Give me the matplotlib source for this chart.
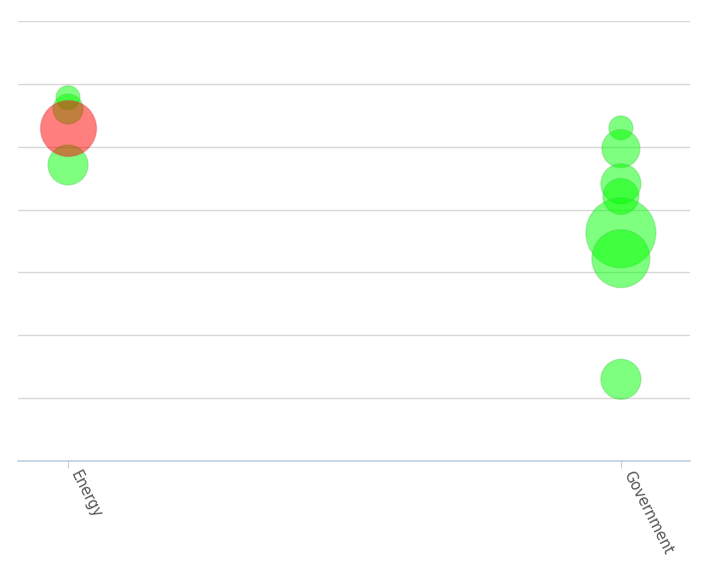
import matplotlib.pyplot as plt

categories = ["Energy", "Government"]

# green bubbles: category index, value, bubble size
green_cat = [0, 0, 0, 1, 1, 1, 1, 1, 1, 1]
green_val = [5.78, 5.60, 4.71, 5.30, 4.97, 4.41, 4.21, 3.63, 3.22, 1.30]
green_size = [12, 15, 20, 12, 19, 20, 18, 35, 29, 20]

# red bubbles
red_cat = [0]
red_val = [5.29]
red_size = [28]

fig = plt.figure(figsize=(7.14, 5.68), dpi=100)
ax = fig.add_axes([0.0252, 0.1884, 0.9412, 0.7746])

# bubble size -> marker area in points^2 (radius in px at 100 dpi)
def area(sizes):
    return [(2 * r * 0.72) ** 2 for r in sizes]

ax.scatter(green_cat, green_val, s=area(green_size), color=(0, 1, 0, 0.5),
           edgecolors=(0.3, 0.8, 0.3, 0.35), linewidths=1, zorder=3)
ax.scatter(red_cat, red_val, s=area(red_size), color=(1, 0, 0, 0.5),
           edgecolors=(0.8, 0.3, 0.3, 0.35), linewidths=1, zorder=4)

ax.set_xlim(-0.0905, 1.125)
ax.set_ylim(0, 7)
ax.set_yticks(range(0, 8))
ax.yaxis.grid(True, color="#d8d8d8", linewidth=1)
ax.set_axisbelow(True)
ax.tick_params(axis="y", left=False, labelleft=False)

for side in ["top", "right", "left"]:
    ax.spines[side].set_visible(False)
ax.spines["bottom"].set_color("#c0d0e0")
ax.spines["bottom"].set_linewidth(1.2)

ax.set_xticks(range(len(categories)))
ax.set_xticklabels(categories, rotation=-63, rotation_mode="anchor",
                   ha="left", va="bottom", color="#555555", fontsize=10.5)
ax.tick_params(axis="x", length=5, color="#c0d0e0", pad=5)

fig.savefig("out.png", dpi=100)
